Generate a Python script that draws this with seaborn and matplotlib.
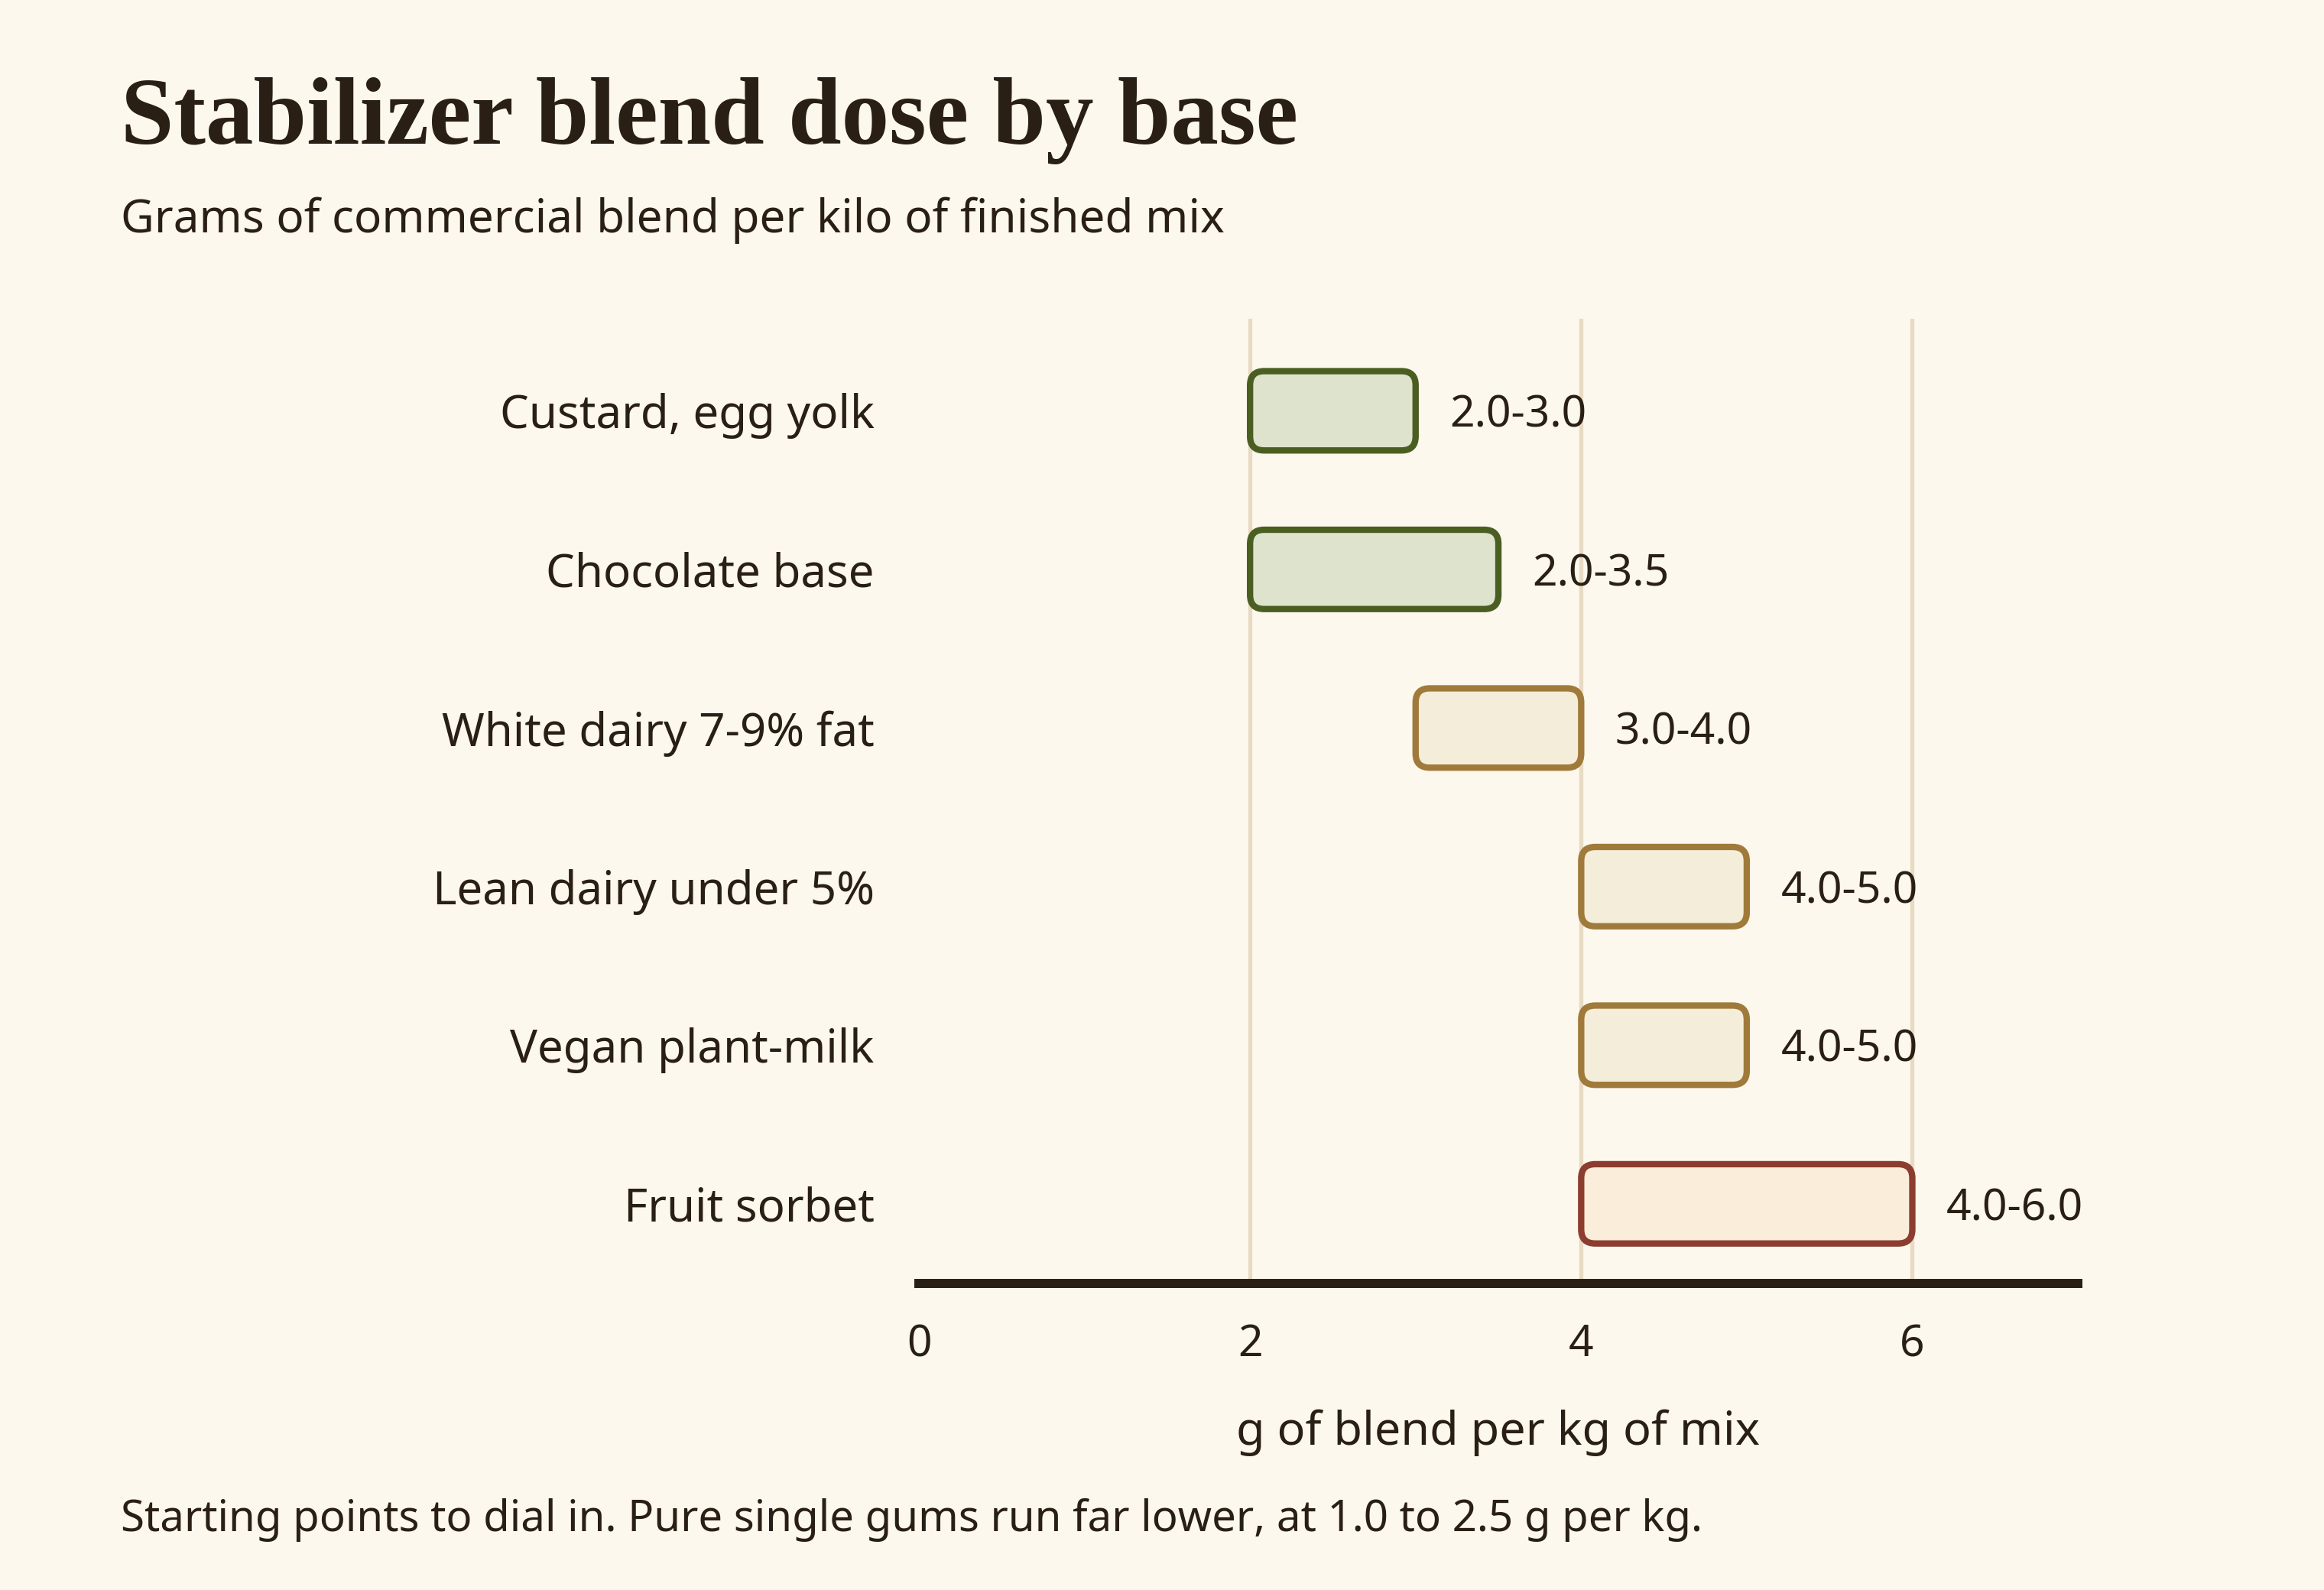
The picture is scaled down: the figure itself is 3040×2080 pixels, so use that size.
import matplotlib
matplotlib.use("Agg")
import matplotlib.pyplot as plt
from matplotlib.patches import FancyBboxPatch
import seaborn as sns
import pandas as pd

# data
bases = ["Custard, egg yolk", "Chocolate base", "White dairy 7-9% fat",
         "Lean dairy under 5%", "Vegan plant-milk", "Fruit sorbet"]
dose_low = [2.0, 2.0, 3.0, 4.0, 4.0, 4.0]
dose_high = [3.0, 3.5, 4.0, 5.0, 5.0, 6.0]
group = ["rich", "rich", "dairy", "dairy", "dairy", "sorbet"]
x_ticks = [0, 2, 4, 6]

edge_colors = {"rich": "#4B5E22", "dairy": "#A07A3A", "sorbet": "#8C3D2F"}
fill_colors = {"rich": "#DDE3CD", "dairy": "#F4EDD9", "sorbet": "#FAEEDA"}

bg = "#FCF8EE"
ink = "#2A1F14"
grid_col = "#E8DAC3"

df = pd.DataFrame({"base": bases, "low": dose_low, "high": dose_high, "group": group})
df["span"] = df["high"] - df["low"]

sns.set_theme(style="white")
plt.rcParams["font.family"] = ["Noto Sans", "DejaVu Sans"]
plt.rcParams["text.color"] = ink

fig = plt.figure(figsize=(15.2, 10.4), dpi=200, facecolor=bg)
ax = fig.add_axes([0.3954, 0.193, 0.4987, 0.6065])
ax.set_facecolor(bg)

sns.barplot(data=df, x="high", y="base", orient="h", width=0.5, ax=ax,
            color=bg, linewidth=0, zorder=2)

ax.set_xlim(0, 7)
ax.set_ylim(5.5, -0.58)

# swap the plain bars for rounded ones spanning low -> high
px = abs(ax.transData.transform((1, 0))[0] - ax.transData.transform((0, 0))[0])
py = abs(ax.transData.transform((0, 1))[1] - ax.transData.transform((0, 0))[1])
bars = list(ax.patches)
for p, (_, row) in zip(bars, df.iterrows()):
    y0, h = p.get_y(), p.get_height()
    rb = FancyBboxPatch((row["low"], y0), row["span"], h,
                        boxstyle="round,pad=0,rounding_size=0.085",
                        mutation_aspect=px / py,
                        facecolor=fill_colors[row["group"]],
                        edgecolor=edge_colors[row["group"]],
                        linewidth=3.0, zorder=3)
    ax.add_patch(rb)
    p.remove()
    ax.annotate(f"{row['low']:.1f}-{row['high']:.1f}", (row["high"], y0 + h / 2),
                xytext=(16, 0), textcoords="offset points",
                va="center_baseline", ha="left", fontsize=20.5, color=ink)

for t in x_ticks:
    if t > 0:
        ax.axvline(t, color=grid_col, linewidth=1.9, zorder=0)

sns.despine(ax=ax, left=True)
ax.spines["bottom"].set_color(ink)
ax.spines["bottom"].set_linewidth(4.3)
ax.spines["bottom"].set_zorder(4)

ax.set_xticks(x_ticks)
ax.set_xticklabels([str(t) for t in x_ticks])
ax.tick_params(axis="x", length=0, pad=19, labelsize=20.5, labelcolor=ink)
ax.tick_params(axis="y", length=0, pad=21, labelsize=21.6, labelcolor=ink)
ax.set_ylabel("")
ax.set_xlabel("g of blend per kg of mix", fontsize=22, color=ink, labelpad=20)

fig.text(0.052, 0.9096, "Stabilizer blend dose by base", fontsize=45,
         fontweight="bold", family=["Liberation Serif", "DejaVu Serif"], color=ink)
fig.text(0.052, 0.854, "Grams of commercial blend per kilo of finished mix",
         fontsize=21.7, color=ink)
fig.text(0.052, 0.037,
         "Starting points to dial in. Pure single gums run far lower, at 1.0 to 2.5 g per kg.",
         fontsize=20.3, color=ink)

fig.savefig("out.png", dpi=200, facecolor=bg)
